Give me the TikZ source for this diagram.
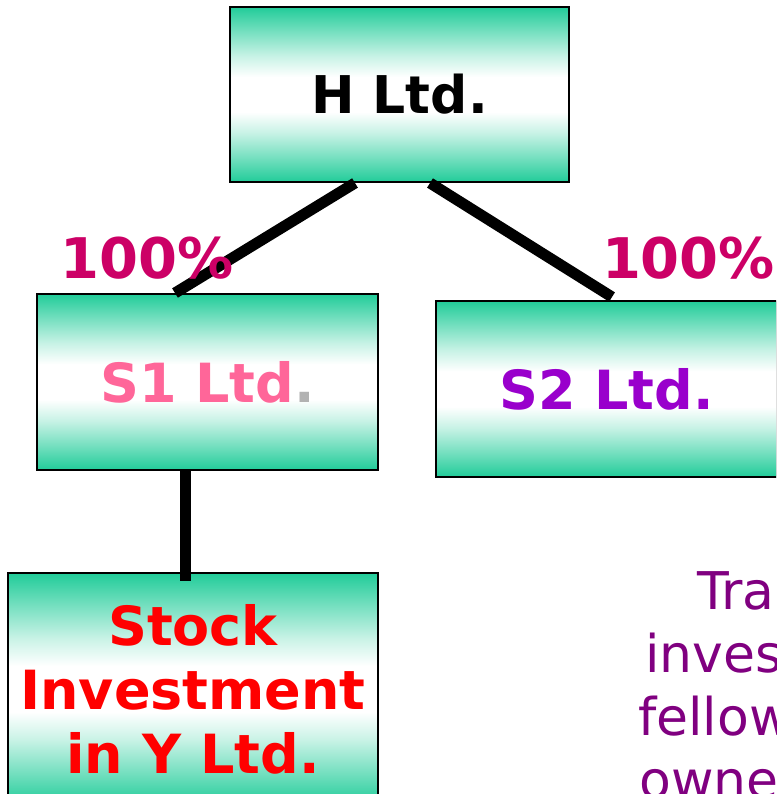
\documentclass[tikz,border=0pt]{standalone}
\usepackage{fontspec}
\setmainfont{DejaVu Sans}
\usetikzlibrary{calc}
\definecolor{boxgreen}{RGB}{33,204,153}
\definecolor{pctcol}{RGB}{204,0,102}
\definecolor{sonecol}{RGB}{255,102,153}
\definecolor{dotgrey}{RGB}{178,178,178}
\definecolor{stwocol}{RGB}{153,0,204}
\definecolor{notecol}{RGB}{128,0,128}
% green edges fading to a broad white band in the middle
\pgfdeclareverticalshading{greenband}{100bp}{%
  color(0bp)=(boxgreen); color(25bp)=(boxgreen);
  color(32bp)=(boxgreen!62!white); color(39bp)=(boxgreen!25!white);
  color(45bp)=(white); color(55bp)=(white);
  color(61bp)=(boxgreen!25!white); color(68bp)=(boxgreen!62!white);
  color(75bp)=(boxgreen); color(100bp)=(boxgreen)}
\begin{document}
\begin{tikzpicture}[x=1pt,y=-1pt,
  firm/.style={draw=black, line width=2pt, rectangle, inner sep=0pt,
    shading=greenband, align=center,
    font=\bfseries\fontsize{54}{64}\selectfont},
  link/.style={line width=11pt, line cap=butt},
  pct/.style={text=pctcol, inner sep=0pt, anchor=base,
    font=\bfseries\fontsize{56}{64}\selectfont},
  note/.style={text=notecol, inner sep=0pt, anchor=base west,
    font=\fontsize{52}{63}\selectfont}]
\useasboundingbox (0,0) rectangle (776,794);
\clip (0,0) rectangle (776,794);

% company boxes
\node[firm, minimum width=339pt, minimum height=175pt,
  font=\bfseries\fontsize{52}{64}\selectfont] (H) at (399.5,94.5) {H Ltd.};
\node[firm, minimum width=341pt, minimum height=176pt] (S1) at (207.5,382)
  {\color{sonecol}S1 Ltd\color{dotgrey}.};
\node[firm, minimum width=341pt, minimum height=176pt, text=stwocol] (S2) at (606.5,389) {S2 Ltd.};
\node[firm, minimum width=370pt, minimum height=232pt, text=red] (Stock) at (193,689)
  {Stock\\Investment\\in Y Ltd.};

% ownership links
\draw[link] ($(H.south)+(-44.5,0)$) -- ($(S1.north)+(-32.5,0)$);
\draw[link] ($(H.south)+(30.5,0)$) -- ($(S2.north)+(5.5,-3)$);
\draw[link] ($(S1.south)+(-22.5,0)$) -- ($(Stock.north)+(-8,9)$);

% holding percentages
\node[pct] (pL) at (147.5,278) {100\%};
\node[pct] (pR) at (688.5,278) {100\%};

% note text
\node[note] (n1) at (697,609) {Tra};
\node[note] (n2) at (645,672) {inves};
\node[note] (n3) at (638,735) {fellow};
\node[note] (n4) at (639,798) {owne};
\end{tikzpicture}
\end{document}
